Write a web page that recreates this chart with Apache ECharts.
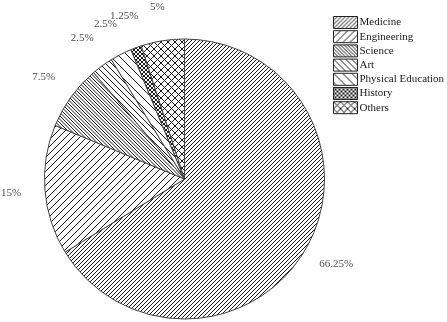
<!DOCTYPE html>
<html>
<head>
<meta charset="utf-8">
<script src="https://cdn.jsdelivr.net/npm/echarts@6/dist/echarts.min.js"></script>
<style>
html,body{margin:0;padding:0;background:#fff;}
#chart{width:447px;height:322px;}
</style>
</head>
<body>
<div id="chart"></div>
<script>
// Data
var categories = ['Medicine', 'Engineering', 'Science', 'Art', 'Physical Education', 'History', 'Others'];
var shares = [66.25, 15, 7.5, 2.5, 2.5, 1.25, 5];

// Hatch pattern styles (period px, direction)
var patternSpecs = [
  {p: 4, dir: '/'},
  {p: 7, dir: '/'},
  {p: 3.6, dir: '\\'},
  {p: 6, dir: '\\'},
  {p: 9, dir: '\\'},
  {p: 4, dir: 'x'},
  {p: 7, dir: 'x'}
];

function makePattern(spec) {
  var p = spec.p;
  var size = Math.round(p * 4);
  var c = document.createElement('canvas');
  c.width = size; c.height = size;
  var ctx = c.getContext('2d');
  ctx.fillStyle = '#ffffff';
  ctx.fillRect(0, 0, size, size);
  ctx.strokeStyle = '#1a1a1a';
  ctx.lineWidth = 1;
  var step = size / 4;
  function fwd() {
    for (var k = -5; k <= 5; k++) {
      ctx.beginPath();
      ctx.moveTo(k * step, size);
      ctx.lineTo(k * step + size, 0);
      ctx.stroke();
    }
  }
  function back() {
    for (var k = -5; k <= 5; k++) {
      ctx.beginPath();
      ctx.moveTo(k * step, 0);
      ctx.lineTo(k * step + size, size);
      ctx.stroke();
    }
  }
  if (spec.dir === '/') fwd();
  else if (spec.dir === '\\') back();
  else { fwd(); back(); }
  return {image: c, repeat: 'repeat'};
}

var total = shares.reduce(function (a, b) { return a + b; }, 0);
var pieData = categories.map(function (name, i) {
  return {
    name: name,
    value: shares[i],
    itemStyle: {color: makePattern(patternSpecs[i])}
  };
});
// label anchors in polar coords: [radius(1 = label ring), mid angle in % of total]
var cum = 0;
var labelPoints = shares.map(function (v) {
  var mid = cum + v / 2;
  cum += v;
  return {value: [1, mid / total * 100], share: v};
});

var CX = 184.5, CY = 179;
var chart = echarts.init(document.getElementById('chart'), null, {renderer: 'canvas'});
chart.setOption({
  backgroundColor: '#ffffff',
  animation: false,
  polar: {center: [CX, CY], radius: 174},
  angleAxis: {type: 'value', min: 0, max: 100, startAngle: 90, clockwise: true, show: false},
  radiusAxis: {type: 'value', min: 0, max: 1, show: false},
  legend: {
    orient: 'vertical',
    left: 333,
    top: 16,
    align: 'left',
    icon: 'rect',
    itemWidth: 24,
    itemHeight: 12,
    itemGap: 1.2,
    padding: 0,
    data: categories,
    textStyle: {fontFamily: 'Liberation Serif', fontSize: 11, color: '#1a1a1a', padding: [0, 0, 0, -3]},
    itemStyle: {borderColor: '#222', borderWidth: 1}
  },
  series: [
    {
      type: 'pie',
      center: [CX, CY],
      radius: 140,
      startAngle: 90,
      clockwise: true,
      label: {show: false},
      labelLine: {show: false},
      itemStyle: {borderColor: '#444', borderWidth: 1},
      emphasis: {disabled: true},
      data: pieData
    },
    {
      type: 'scatter',
      name: 'labels',
      coordinateSystem: 'polar',
      symbolSize: 1,
      silent: true,
      itemStyle: {color: 'rgba(0,0,0,0)'},
      label: {
        show: true,
        position: 'inside',
        fontFamily: 'Liberation Serif',
        fontSize: 11,
        color: '#1a1a1a',
        formatter: function (p) { return p.data.share + '%'; }
      },
      emphasis: {disabled: true},
      data: labelPoints
    }
  ]
});
</script>
</body>
</html>
